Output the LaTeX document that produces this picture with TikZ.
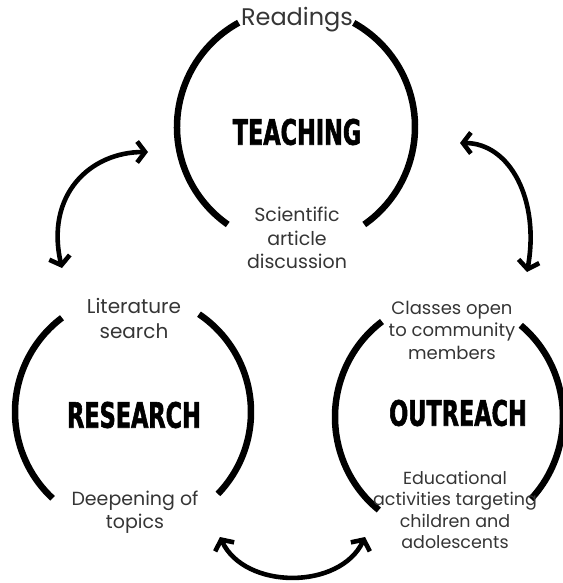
\documentclass[tikz,border=0pt]{standalone}
\usepackage{fontspec}
\setmainfont{Poppins}
\newfontfamily\titlefont[FakeStretch=0.64,FakeBold=1.6]{DejaVu Sans}
\usetikzlibrary{arrows.meta}

\definecolor{labelgray}{HTML}{353535}

\tikzset{
  ring/.style={line width=6.5pt},
  link/.style={line width=4.6pt, {Straight Barb[length=8pt,width=21pt]}-{Straight Barb[length=8pt,width=21pt]}},
  title/.style={font=\titlefont\bfseries\fontsize{35}{35}\selectfont, inner sep=0pt},
  label/.style={text=labelgray, align=center, inner sep=0pt},
  fs/.style 2 args={font=\fontsize{#1}{#2}\selectfont}
}

\begin{document}
\begin{tikzpicture}[x=1pt,y=1pt]
  \useasboundingbox (0,0) rectangle (562,-583);

  % centres of the three rings
  \coordinate (teach) at (296,-127);
  \coordinate (resrch) at (133,-412);
  \coordinate (outr) at (449,-417);

  % rings, each split into a left and a right arc
  \draw[ring] ([shift={(118.8:119)}]teach) arc[start angle=118.8, end angle=235, radius=119];
  \draw[ring] ([shift={(-55:119)}]teach) arc[start angle=-55, end angle=61, radius=119];
  \draw[ring] ([shift={(127:118)}]resrch) arc[start angle=127, end angle=227, radius=118];
  \draw[ring] ([shift={(-44:118)}]resrch) arc[start angle=-44, end angle=56, radius=118];
  \draw[ring] ([shift={(126:114 and 118)}]outr) arc[start angle=126, end angle=232, x radius=114, y radius=118];
  \draw[ring] ([shift={(-44:114 and 118)}]outr) arc[start angle=-44, end angle=51, x radius=114, y radius=118];

  % titles
  \node[title] (teachtitle) at (297,-132) {TEACHING};
  \node[title] (restitle) at (134,-415) {RESEARCH};
  \node[title] (outtitle) at (458,-413) {OUTREACH};

  % labels
  \node[label, fs={24}{28}] (readings) at (297,-20) {Readings};
  \node[label, fs={19}{23.5}] (sciart) at (297,-238) {Scientific\\article\\discussion};
  \node[label, fs={20}{25}] (litsearch) at (134,-318) {Literature\\search};
  \node[label, fs={19}{23}] (deepen) at (135,-512) {Deepening of\\topics};
  \node[label, fs={18}{22.5}] (classes) at (452,-330) {Classes open\\to community\\members};
  \node[label, fs={17.5}{21.5}] (eduact) at (455,-510) {Educational\\activities targeting\\children and\\adolescents};

  % arrow ends
  \coordinate (la) at (62,-268);
  \coordinate (lb) at (148,-152);
  \coordinate (ra) at (460,-143);
  \coordinate (rb) at (527,-272);
  \coordinate (ba) at (220,-537);
  \coordinate (bb) at (365,-537);

  \draw[link] (la) .. controls (45,-195) and (90,-152) .. (lb);
  \draw[link] (ra) .. controls (510,-143) and (540,-200) .. (rb);
  \draw[link] (ba) .. controls (245,-590) and (340,-590) .. (bb);
\end{tikzpicture}
\end{document}
